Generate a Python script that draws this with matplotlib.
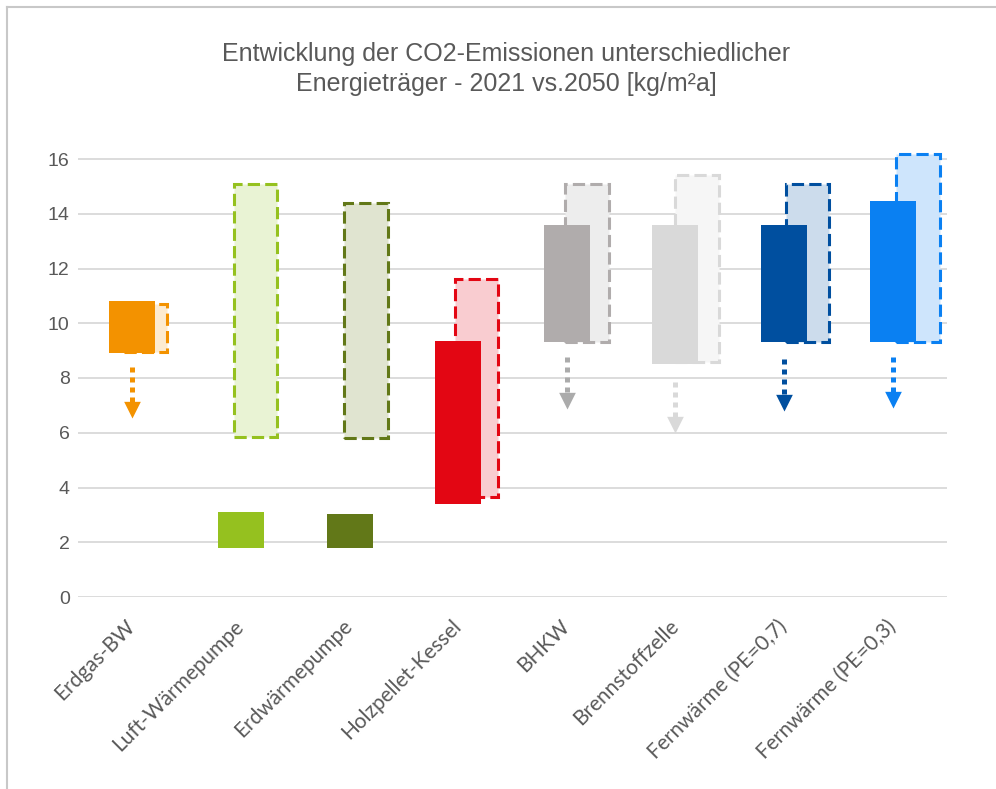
import matplotlib.pyplot as plt
import matplotlib.transforms as mtransforms
from matplotlib.lines import Line2D
import numpy as np

categories = ['Erdgas-BW', 'Luft-Wärmepumpe', 'Erdwärmepumpe', 'Holzpellet-Kessel',
              'BHKW', 'Brennstoffzelle', 'Fernwärme (PE=0,7)', 'Fernwärme (PE=0,3)']

# CO2 range in kg/m²a, 2021 (solid) and 2050 (dashed)
low_2021 = [8.9, 1.8, 1.8, 3.4, 9.3, 8.5, 9.3, 9.3]
high_2021 = [10.8, 3.1, 3.05, 9.35, 13.6, 13.6, 13.6, 14.45]
low_2050 = [8.95, 5.85, 5.8, 3.65, 9.3, 8.6, 9.3, 9.3]
high_2050 = [10.7, 15.1, 14.4, 11.6, 15.1, 15.4, 15.1, 16.2]

# downward trend arrows (start, tip); nan = no arrow
arrow_start = [8.4, np.nan, np.nan, np.nan, 8.75, 7.85, 8.7, 8.75]
arrow_tip = [6.55, np.nan, np.nan, np.nan, 6.85, 6.0, 6.8, 6.9]

colors_2021 = ['#F39200', '#95C11F', '#627818', '#E30613',
               '#B0ACAC', '#D9D9D9', '#004F9F', '#0A80F2']
fills_2050 = ['#FDEBD0', '#E9F3D4', '#E0E4D0', '#F9CCD0',
              '#EDEDED', '#F6F6F6', '#CCDCEC', '#CEE5FC']
edges_2050 = ['#F39200', '#95C11F', '#627818', '#E30613',
              '#B0ACAC', '#D9D9D9', '#004F9F', '#0A80F2']
arrow_colors = ['#F39200', None, None, None, '#ABABAB', '#D9D9D9', '#004F9F', '#0A80F2']

text_grey = '#595959'

fig = plt.figure(figsize=(9.96, 7.89), dpi=100)
ax = fig.add_axes([78 / 996, 192 / 789, 869 / 996, 17 * 27.375 / 789])

x = np.arange(len(categories))
x_2050 = x * 1.016 + 0.12

lo1, hi1 = np.array(low_2021), np.array(high_2021)
lo2, hi2 = np.array(low_2050), np.array(high_2050)

ax.bar(x_2050, hi2 - lo2, bottom=lo2, width=0.40, color=fills_2050,
       edgecolor=edges_2050, linewidth=2.2, linestyle=(0, (4, 1.7)), zorder=2)
ax.bar(x, hi1 - lo1, bottom=lo1, width=0.424, color=colors_2021, zorder=3)

# arrow head with its tip at the marker origin
head = [(-0.5, 1.0), (0.5, 1.0), (0.0, 0.0), (-0.5, 1.0)]
for xi, y0, y1, c in zip(x, arrow_start, arrow_tip, arrow_colors):
    if np.isnan(y0):
        continue
    ax.plot([xi, xi], [y0, y1 + 0.3], color=c, lw=3.6, linestyle=(0, (1, 1)), zorder=4)
    ax.plot(xi, y1, marker=head, markersize=24, color=c, markeredgewidth=0, zorder=5)

ax.set_xlim(-0.5, 7.5)
ax.set_ylim(0, 17)
ax.set_yticks(range(0, 17, 2))
ax.grid(axis='y', color='#D9D9D9', linewidth=1.3)
ax.set_axisbelow(True)
for s in ax.spines.values():
    s.set_visible(False)

# category labels, rotated, hanging below the zero line
ax.set_xticks(x)
ax.set_xticklabels([])
ax.tick_params(axis='x', length=0)
label_trans = mtransforms.offset_copy(ax.get_xaxis_transform(), fig=fig,
                                      x=7, y=-19, units='dots')
for xi, name in zip(x, categories):
    ax.text(xi, 0, name, transform=label_trans, rotation=45, ha='right', va='top',
            fontfamily='Lato', fontsize=15, color=text_grey)

ax.tick_params(axis='y', length=0, pad=6, labelsize=14, labelcolor=text_grey)
for lbl in ax.get_yticklabels():
    lbl.set_fontfamily('Liberation Sans')

fig.text(506 / 996, 1 - 69 / 789,
         'Entwicklung der CO2-Emissionen unterschiedlicher\nEnergieträger - 2021 vs.2050 [kg/m²a]',
         ha='center', va='center', fontsize=18, color=text_grey,
         fontfamily='Liberation Sans', linespacing=1.35)

# outer chart frame (left and top edges)
fig.add_artist(Line2D([6.5 / 996, 6.5 / 996], [0, 1 - 7 / 789], transform=fig.transFigure,
                      color='#C8C8C8', lw=1.5))
fig.add_artist(Line2D([6.5 / 996, 1], [1 - 7 / 789, 1 - 7 / 789], transform=fig.transFigure,
                      color='#C8C8C8', lw=1.5))

fig.savefig('out.png', dpi=100)
